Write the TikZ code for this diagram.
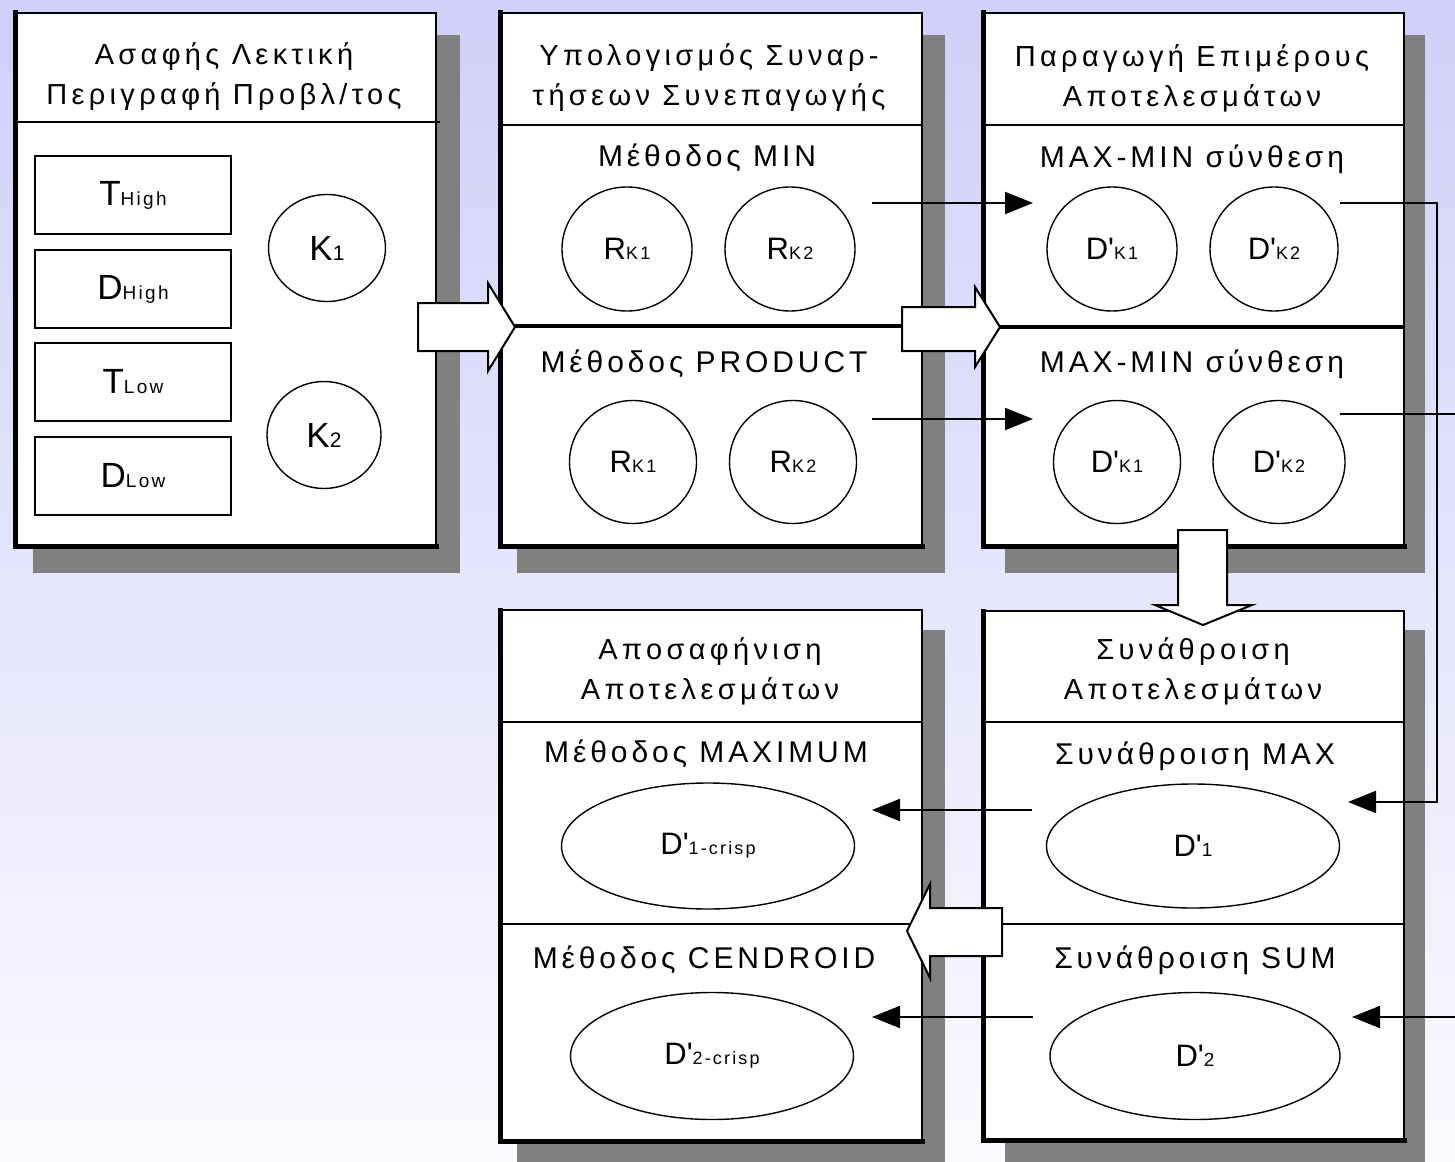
\documentclass[tikz,border=0pt]{standalone}
\usepackage{fontspec}
\setmainfont{Liberation Sans}[LetterSpace=12]
\usetikzlibrary{shapes.geometric,arrows.meta}
\definecolor{shad}{RGB}{128,128,128}
\definecolor{bgtop}{RGB}{208,208,249}
\definecolor{bgbot}{RGB}{250,250,255}
\newcommand\subtxt[2]{{\fontsize{#1}{#1}\selectfont #2}}
\begin{document}
\begin{tikzpicture}[x=1pt,y=-1pt,
  shadowbox/.style={fill=shad,draw=none},
  panel/.style={fill=white,draw=black,line width=2},
  thickedge/.style={line width=5,line cap=rect},
  hline/.style={line width=2},
  divline/.style={line width=3.5},
  title/.style={font=\fontsize{29}{40}\selectfont\addfontfeature{LetterSpace=15},align=center,inner sep=0},
  sect/.style={font=\fontsize{30}{30}\selectfont\addfontfeature{LetterSpace=13},inner sep=0},
  lab/.style={draw,line width=2,inner sep=0,minimum width=196,minimum height=78,font=\fontsize{35}{35}\selectfont},
  circ/.style={draw,ellipse,line width=1.4,inner sep=0,font=\fontsize{31}{31}\selectfont},
  conn/.style={line width=2.2,-{Triangle[length=28pt,width=22pt]}},
  blockarrow/.style={draw,fill=white,line width=2,line join=miter}
]
\useasboundingbox (0,0) rectangle (1455,1161);
\clip (0,0) rectangle (1455,1161);
\shade[top color=bgtop,bottom color=bgbot] (0,0) rectangle (1455,1161);

% shadows
\fill[shadowbox] (33,35) rectangle (460,573);
\fill[shadowbox] (517,35) rectangle (945,573);
\fill[shadowbox] (1005,35) rectangle (1425,573);
\fill[shadowbox] (1005,630) rectangle (1425,1170);
\fill[shadowbox] (517,630) rectangle (945,1170);

% panel 1
\draw[panel] (15,13) rectangle (436,546);
\draw[thickedge] (15,13) -- (15,546) -- (436,546);
\draw[hline] (15,122) -- (440,122);
% panel 2
\draw[panel] (500,13) rectangle (922,546);
\draw[thickedge] (500,13) -- (500,546) -- (922,546);
\draw[hline] (500,125) -- (922,125);
\draw[divline] (500,326) -- (922,326);
% panel 3
\draw[panel] (983,13) rectangle (1404,546);
\draw[thickedge] (983,13) -- (983,546) -- (1404,546);
\draw[hline] (983,125) -- (1404,125);
\draw[divline] (983,327) -- (1404,327);
% panel 4
\draw[panel] (983,611) rectangle (1404,1140);
\draw[thickedge] (983,611) -- (983,1140) -- (1404,1140);
\draw[hline] (983,722) -- (1404,722);
\draw[hline] (983,924) -- (1404,924);
% panel 5
\draw[panel] (500,610) rectangle (922,1141);
\draw[thickedge] (500,610) -- (500,1141) -- (922,1141);
\draw[hline] (500,722) -- (922,722);
\draw[hline] (500,924) -- (922,924);

% titles
\node[title] (t1) at (224,77) {Ασαφής Λεκτική\\Περιγραφή Προβλ/τος};
\node[title] (t2) at (709,78) {Υπολογισμός Συναρ-\\τήσεων Συνεπαγωγής};
\node[title] (t3) at (1192,78) {Παραγωγή Επιμέρους\\Αποτελεσμάτων};
\node[title] (t4) at (1193,671) {Συνάθροιση\\Αποτελεσμάτων};
\node[title] (t5) at (710,671) {Αποσαφήνιση\\Αποτελεσμάτων};

% section titles
\node[sect] (s2a) at (707,158) {Μέθοδος MIN};
\node[sect] (s2b) at (704,364) {Μέθοδος PRODUCT};
\node[sect] (s3a) at (1192,159) {MAX-MIN σύνθεση};
\node[sect] (s3b) at (1192,364) {MAX-MIN σύνθεση};
\node[sect] (s4a) at (1195,756) {Συνάθροιση MAX};
\node[sect] (s4b) at (1195,960) {Συνάθροιση SUM};
\node[sect] (s5a) at (706,754) {Μέθοδος MAXIMUM};
\node[sect] (s5b) at (704,960) {Μέθοδος CENDROID};

% panel 1 contents
\node[lab] (th) at (133,195) {T\subtxt{19}{High}};
\node[lab] (dh) at (133,289) {D\subtxt{19}{High}};
\node[lab] (tl) at (133,382) {T\subtxt{19}{Low}};
\node[lab] (dl) at (133,476) {D\subtxt{19}{Low}};
\node[circ,minimum width=117,minimum height=107,font=\fontsize{35}{35}\selectfont] (k1) at (327,248) {K\subtxt{21}{1}};
\node[circ,minimum width=114,minimum height=107,font=\fontsize{35}{35}\selectfont] (k2) at (324,435) {K\subtxt{21}{2}};

% panel 2 contents
\node[circ,minimum width=130,minimum height=124] (rk1a) at (627,249) {R\subtxt{18}{K1}};
\node[circ,minimum width=130,minimum height=124] (rk2a) at (790,249) {R\subtxt{18}{K2}};
\node[circ,minimum width=127,minimum height=123] (rk1b) at (633,462) {R\subtxt{18}{K1}};
\node[circ,minimum width=127,minimum height=123] (rk2b) at (793,462) {R\subtxt{18}{K2}};

% panel 3 contents
\node[circ,minimum width=130,minimum height=124] (dk1a) at (1112,249) {D\textquotesingle\subtxt{18}{K1}};
\node[circ,minimum width=128,minimum height=124] (dk2a) at (1274,249) {D\textquotesingle\subtxt{18}{K2}};
\node[circ,minimum width=127,minimum height=123] (dk1b) at (1117,462) {D\textquotesingle\subtxt{18}{K1}};
\node[circ,minimum width=132,minimum height=123] (dk2b) at (1279,462) {D\textquotesingle\subtxt{18}{K2}};

% panel 4 contents
\node[circ,minimum width=293,minimum height=124] (d1) at (1193,846) {D\textquotesingle\subtxt{19}{1}};
\node[circ,minimum width=290,minimum height=127] (d2) at (1195,1056) {D\textquotesingle\subtxt{19}{2}};

% panel 5 contents
\node[circ,minimum width=293,minimum height=126] (d1c) at (708,846) {D\textquotesingle\subtxt{18}{1-crisp}};
\node[circ,minimum width=283,minimum height=127] (d2c) at (712,1056) {D\textquotesingle\subtxt{18}{2-crisp}};

% block arrows
\draw[blockarrow] (418,303) -- (488,303) -- (488,283) -- (515,327) -- (488,371) -- (488,351) -- (418,351) -- cycle;
\draw[blockarrow] (902,307) -- (975,307) -- (975,287) -- (1000,327) -- (975,367) -- (975,351) -- (902,351) -- cycle;
\draw[blockarrow] (1178,530) -- (1178,605) -- (1155,605) -- (1203,625) -- (1252,605) -- (1227,605) -- (1227,530) -- cycle;
\draw[blockarrow] (1002,908) -- (930,908) -- (930,884) -- (907,931) -- (930,978) -- (930,956) -- (1002,956) -- cycle;

% connector end points
\coordinate (a1s) at (872,203);
\coordinate (a1e) at (1033,203);
\coordinate (a2s) at (872,419);
\coordinate (a2e) at (1033,419);
\coordinate (a3s) at (1340,203);
\coordinate (a3c) at (1437,203);
\coordinate (a3e) at (1348,802);
\coordinate (a4s) at (1340,414);
\coordinate (a4c) at (1475,414);
\coordinate (a4e) at (1352,1017);
\coordinate (a5s) at (1032,810);
\coordinate (a5e) at (872,810);
\coordinate (a6s) at (1033,1017);
\coordinate (a6e) at (872,1017);

\draw[conn] (a1s) -- (a1e);
\draw[conn] (a2s) -- (a2e);
\draw[conn] (a3s) -- (a3c) |- (a3e);
\draw[conn] (a4s) -- (a4c) |- (a4e);
\draw[conn] (a5s) -- (a5e);
\draw[conn] (a6s) -- (a6e);
\end{tikzpicture}
\end{document}
